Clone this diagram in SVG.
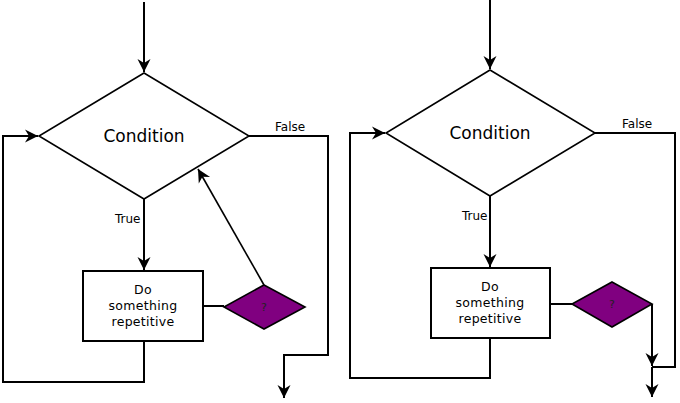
<svg xmlns="http://www.w3.org/2000/svg" width="680" height="403" viewBox="0 0 680 403">
<style>
.ln{fill:none;stroke:#000;stroke-width:2}
.thin{fill:none;stroke:#000;stroke-width:1.6}
.dia{fill:#fff;stroke:#000;stroke-width:1.6}
.box{fill:#fff;stroke:#000;stroke-width:2}
.q{fill:#800080;stroke:#000;stroke-width:1.6}
text{font-family:"DejaVu Sans","Liberation Sans",sans-serif;fill:#000}
.big{font-size:17px;text-anchor:middle}
.sm{font-size:12px}
.mid{font-size:12.5px;text-anchor:middle;letter-spacing:0.3px}
.qt{font-size:11px;text-anchor:middle;fill:#222}
</style>
<defs>
<marker id="arr" markerUnits="userSpaceOnUse" markerWidth="16" markerHeight="14" viewBox="-14 -7 16 14" refX="0" refY="0" orient="auto">
<path d="M0,0 L-13,-6.5 L-9,0 L-13,6.5 Z" fill="#000"/>
</marker>
</defs>
<g id="connectors">
<path class="ln" d="M144,2 V72" marker-end="url(#arr)"/>
<path class="ln" d="M144,199 V270" marker-end="url(#arr)"/>
<path class="ln" d="M249,136 H328 V355 H284 V398" marker-end="url(#arr)"/>
<path class="ln" d="M144,341 V382 H3 V136 H38" marker-end="url(#arr)"/>
<path class="ln" d="M203,306 H224"/>
<path class="thin" d="M264,285 L198,169" marker-end="url(#arr)"/>
<path class="ln" d="M490,0 V69" marker-end="url(#arr)"/>
<path class="ln" d="M490,196 V267" marker-end="url(#arr)"/>
<path class="ln" d="M490,338 V378 H350 V133 H385" marker-end="url(#arr)"/>
<path class="ln" d="M550,304 H572"/>
<path class="ln" d="M652,304 V366" marker-end="url(#arr)"/>
<path class="ln" d="M595,133 H675 V367 H652"/>
<path class="ln" d="M652,367 V397" marker-end="url(#arr)"/>
</g>
<g id="cond1">
<polygon class="dia" points="144,73 249,136 144,199 39,136"/>
<text class="big" x="144" y="142">Condition</text>
</g>
<g id="do1">
<rect class="box" x="83" y="271" width="120" height="70"/>
<text class="mid" x="143" y="294">Do</text>
<text class="mid" x="143" y="310">something</text>
<text class="mid" x="143" y="326">repetitive</text>
</g>
<g id="q1">
<polygon class="q" points="264,285 305,307 264,329 224,307"/>
<text class="qt" x="264" y="311">?</text>
</g>
<g id="labels1">
<text class="sm" x="275" y="131">False</text>
<text class="sm" x="115" y="223">True</text>
</g>
<g id="cond2">
<polygon class="dia" points="490,70 595,133 490,196 386,133"/>
<text class="big" x="490" y="139">Condition</text>
</g>
<g id="do2">
<rect class="box" x="431" y="268" width="119" height="70"/>
<text class="mid" x="490" y="291">Do</text>
<text class="mid" x="490" y="307">something</text>
<text class="mid" x="490" y="323">repetitive</text>
</g>
<g id="q2">
<polygon class="q" points="612,282 652,304 612,327 572,304"/>
<text class="qt" x="612" y="308">?</text>
</g>
<g id="labels2">
<text class="sm" x="622" y="128">False</text>
<text class="sm" x="462" y="220">True</text>
</g>
</svg>
